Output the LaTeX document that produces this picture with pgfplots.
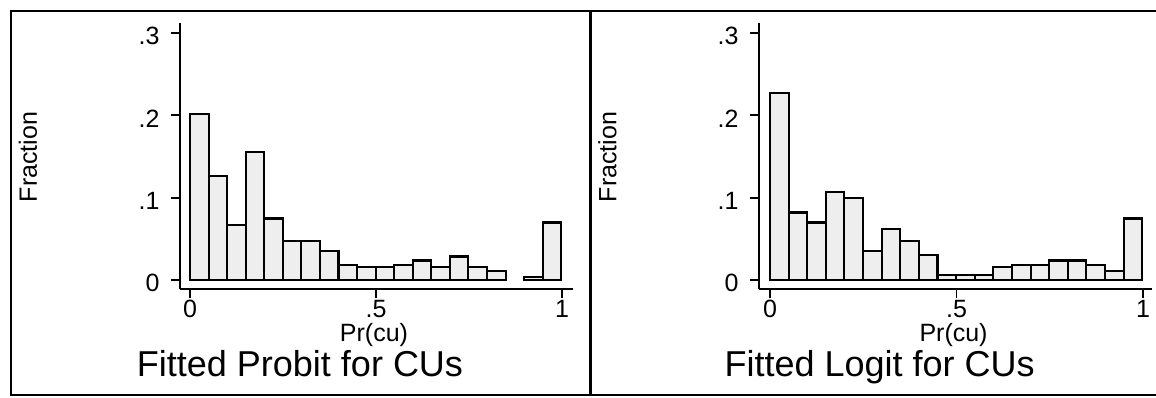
\documentclass[border=0pt]{standalone}
\usepackage{pgfplots}
\pgfplotsset{compat=1.18}
\usepackage{fontspec}
\setmainfont{Liberation Sans}
\definecolor{barfill}{RGB}{238,238,238}
\pgfplotsset{
  histax/.style={
    scale only axis, width=393pt, height=266pt,
    ymin=-0.0109, ymax=0.3121,
    axis x line=bottom, axis y line=left,
    axis line style={line width=1.8pt, -},
    tick align=outside, major tick length=9pt,
    tick style={line width=1.8pt, black},
    xtick={0,0.5,1}, xticklabels={0,.5,1},
    ytick={0,0.1,0.2,0.3}, yticklabels={0,.1,.2,.3},
    tick label style={font=\fontsize{25}{25}\selectfont},
    xticklabel style={yshift=-1pt, inner sep=1pt},
    yticklabel style={xshift=-8pt, yshift=-3pt},
    label style={font=\fontsize{25}{25}\selectfont},
    ylabel={Fraction},
    xlabel={Pr(cu)},
    title style={font=\fontsize{36}{36}\selectfont, anchor=base, yshift=0pt,
      inner sep=0pt, text height=25pt, text depth=2pt},
    clip=false,
  },
  histbar/.style={ybar interval, fill=barfill, draw=black, line width=2.1pt},
}
\begin{document}
\begin{tikzpicture}
\path[use as bounding box] (0pt,0pt) rectangle (1156pt,397pt);
\draw[line width=2pt] (1157pt,386pt) -- (11pt,386pt) -- (11pt,2pt) -- (1157pt,2pt);
\draw[line width=3pt] (590pt,386pt) -- (590pt,2pt);

\begin{axis}[histax, at={(180pt,108pt)}, anchor=south west,
  xmin=-0.0269, xmax=1.0296,
  xlabel style={at={(axis description cs:0.4936,-0.1992)}, anchor=base, inner sep=0pt, text depth=1pt},
  ylabel style={at={(axis description cs:-0.3868,0.496)}, anchor=center},
  title={Fitted Probit for CUs},
  title style={at={(axis description cs:0.3053,-0.352)}}]
\addplot[histbar] coordinates {
(0,0.202) (0.0499,0.1265) (0.0998,0.0673) (0.1497,0.1555) (0.1996,0.0747)
(0.2495,0.0478) (0.2994,0.0478) (0.3493,0.0355) (0.3992,0.0184) (0.4491,0.016)
(0.499,0.016) (0.5489,0.018) (0.5988,0.0237) (0.6487,0.016) (0.6986,0.0286)
(0.7485,0.016) (0.7984,0.0114) (0.8483,0)};
\addplot[histbar] coordinates {
(0.8982,0.004) (0.9481,0.0698) (0.998,0)};
\end{axis}

\begin{axis}[histax, at={(759pt,108pt)}, anchor=south west,
  xmin=-0.0294, xmax=1.0241,
  xlabel style={at={(axis description cs:0.495,-0.1992)}, anchor=base, inner sep=0pt, text depth=1pt},
  ylabel style={at={(axis description cs:-0.3858,0.496)}, anchor=center},
  title={Fitted Logit for CUs},
  title style={at={(axis description cs:0.307,-0.352)}}]
\addplot[histbar] coordinates {
(0,0.227) (0.0499,0.082) (0.0998,0.0698) (0.1497,0.1065) (0.1996,0.0992)
(0.2495,0.0355) (0.2994,0.0624) (0.3493,0.0478) (0.3992,0.0306) (0.4491,0.006)
(0.499,0.006) (0.5489,0.006) (0.5988,0.016) (0.6487,0.018) (0.6986,0.018)
(0.7485,0.0237) (0.7984,0.0237) (0.8483,0.018) (0.8982,0.0114) (0.9481,0.0747)
(0.998,0)};
\end{axis}
\end{tikzpicture}
\end{document}
